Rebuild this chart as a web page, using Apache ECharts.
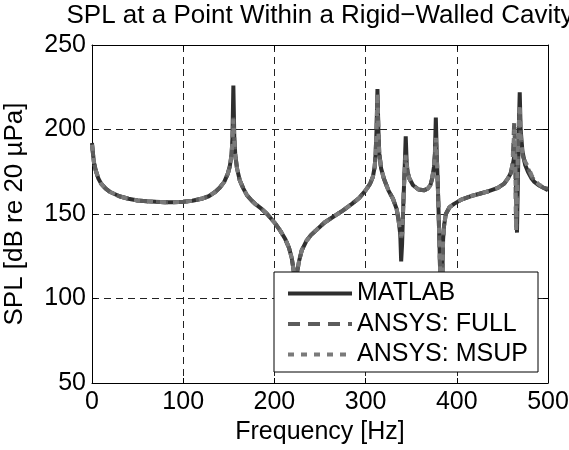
<!DOCTYPE html>
<html>
<head>
<meta charset="utf-8">
<script src="https://cdn.jsdelivr.net/npm/echarts@6/dist/echarts.min.js"></script>
<style>
html,body{margin:0;padding:0;background:#fff;}
#chart{width:569px;height:450px;}
</style>
</head>
<body>
<div id="chart"></div>
<script>
// Frequency points (Hz)
const frequencies = [
  0,1,2,4,7,10,15,20,30,40,
  50,60,70,80,90,100,110,120,128,135,
  140,145,149,151,153,154,155,156,157,159,
  162,166,170,175,180,186,192,200,206,212,
  216,219,221,222,223,224,225,227,230,235,
  240,247,255,265,275,285,293,300,305,308,
  310,311,312,313,314,315,317,320,325,330,
  334,336,338,339,340,341,342,343,344,345,
  346,348,352,358,364,368,371,373,375,376,
  377,378,379,380,381,382,383,384,385,386,
  388,392,397,405,415,425,435,445,452,456,
  459,461,463,464,465,466,467,468,469,470,
  472,475,478,482,485,490,495,500
];
const splMatlab = [
  192,186,181,176,171,168,165,163,160.5,159,
  158,157.5,157.2,157,157,157.2,157.8,159,160.5,163,
  165.5,169,174,178,185,195,226,196,186,177,
  170,165,161,158,155.5,153,150,145,140.5,135,
  130,124,117,110,95,108,116,122,128.5,134,
  137.5,141,145,148.5,152,156,159.5,164,168,172,
  178,186,200,224,200,186,177,171,164,159,
  153,147,138,122,132,150,165,180,196,181,
  175,171,167,164.5,164,165,167,171,178,186,
  207,186,170,152,132,110,85,110,135,143,
  150,154,156,158.5,160.5,162,163.5,165.5,168,171,
  174,178,184,190,165,139,170,200,222,200,
  187,179,175,171,169,167,165.5,164
];
const splAnsysFull = [
  191,186,181,176,171,168,165,163,160.5,159,
  158,157.5,157.2,157,157,157.2,157.8,159,160.5,163,
  165.5,169,174,178,185,193,207,194,185,177,
  170,165,161,158,155.5,153,150,145,140.5,135,
  130,124,117,111,100,108,116,122,128.5,134,
  137.5,141,145,148.5,152,156,159.5,164,168,172,
  178,186,199,222,199,186,177,171,164,159,
  153,147,139,136,138,150,165,178,184,180,
  175,171,167,164.5,164,165,167,171,178,185,
  194,185,170,152,132,110,90,110,135,143,
  150,154,156,158.5,160.5,162,163.5,165.5,168,171,
  174,179,205,185,142,160,185,200,212,195,
  185,180,177,172,170,167,165.5,165
];
const splAnsysMsup = [
  191,186,181,176,171,168,165,163,160.5,159,
  158,157.5,157.2,157,157,157.2,157.8,159,160.5,163,
  165.5,169,174,178,185,193,206,194,185,177,
  170,165,161,158,155.5,153,150,145,140.5,135,
  130,124,117,111,100,108,116,122,128.5,134,
  137.5,141,145,148.5,152,156,159.5,164,168,172,
  178,186,199,222,199,186,177,171,164,159,
  153,147,139,137,139,150,165,178,185,180,
  175,171,167,164.5,164,165,167,171,178,185,
  195,185,170,152,132,110,90,110,135,143,
  150,154,156,158.5,160.5,162,163.5,165.5,168,171,
  174,179,200,188,140,162,188,203,215,196,
  186,181,178,173,170,167.5,166,165.5
];
const seriesNames = ['MATLAB', 'ANSYS: FULL', 'ANSYS: MSUP'];
const xTicks = [0, 100, 200, 300, 400, 500];
const yTicks = [50, 100, 150, 200, 250];

const pair = (ys) => frequencies.map((f, i) => [f, ys[i]]);
const FONT = 'Liberation Sans, Arial, Helvetica, sans-serif';
const FS = 25;

const chart = echarts.init(document.getElementById('chart'), null, {renderer: 'canvas'});

const gridDash = {show: true, lineStyle: {color: '#222', width: 1, type: [7, 5]}};
const axisLine = {show: true, onZero: false, lineStyle: {color: '#000', width: 1}};
const tick = {show: true, inside: true, length: 5, lineStyle: {color: '#000', width: 1}};

const option = {
  backgroundColor: '#fff',
  animation: false,
  title: {
    text: 'SPL at a Point Within a Rigid\u2212Walled Cavity',
    left: 320, top: 3, textAlign: 'center', padding: 0,
    textStyle: {fontFamily: FONT, fontSize: 26, fontWeight: 'normal', color: '#000'}
  },
  grid: {left: 92, right: 21, top: 45, bottom: 67, containLabel: false, outerBoundsMode: 'none'},
  xAxis: [{
    type: 'value', min: xTicks[0], max: xTicks[xTicks.length - 1], interval: 100,
    position: 'bottom',
    name: 'Frequency [Hz]', nameLocation: 'middle', nameGap: 36,
    nameTextStyle: {fontFamily: FONT, fontSize: FS, color: '#000'},
    axisLine: axisLine, axisTick: tick,
    axisLabel: {fontFamily: FONT, fontSize: FS, color: '#000', margin: 7},
    splitLine: gridDash
  }, {
    type: 'value', min: xTicks[0], max: xTicks[xTicks.length - 1], interval: 100,
    position: 'top', axisLine: axisLine, axisTick: tick,
    axisLabel: {show: false}, splitLine: {show: false}
  }],
  yAxis: [{
    type: 'value', min: yTicks[0], max: yTicks[yTicks.length - 1], interval: 50,
    position: 'left',
    name: 'SPL [dB re 20 \u00b5Pa]', nameLocation: 'middle', nameGap: 64,
    nameTextStyle: {fontFamily: FONT, fontSize: 26, color: '#000'},
    axisLine: axisLine, axisTick: tick,
    axisLabel: {fontFamily: FONT, fontSize: FS, color: '#000', margin: 6},
    splitLine: gridDash
  }, {
    type: 'value', min: yTicks[0], max: yTicks[yTicks.length - 1], interval: 50,
    position: 'right', axisLine: axisLine, axisTick: tick,
    axisLabel: {show: false}, splitLine: {show: false}
  }],
  legend: {
    data: seriesNames,
    orient: 'vertical', left: 274, top: 272,
    padding: [9, 8, 8, 12],
    itemWidth: 64, itemHeight: 14, itemGap: 5.5,
    itemStyle: {opacity: 0},
    lineStyle: {width: 4},
    textStyle: {fontFamily: FONT, fontSize: FS, color: '#000'},
    z: 20
  },
  graphic: [{
    type: 'rect', z: 10,
    shape: {x: 274, y: 272, width: 264, height: 100},
    style: {fill: '#fff', stroke: '#000', lineWidth: 1}
  }],
  series: [{
    name: seriesNames[0], type: 'line', data: pair(splMatlab),
    showSymbol: false, symbol: 'none', smooth: false,
    lineStyle: {color: '#2e2e2e', width: 4},
    itemStyle: {color: '#2e2e2e'}, z: 2
  }, {
    name: seriesNames[1], type: 'line', data: pair(splAnsysFull),
    showSymbol: false, symbol: 'none', smooth: false,
    lineStyle: {color: '#5c5c5c', width: 4, type: [12, 8]},
    itemStyle: {color: '#5c5c5c'}, z: 3
  }, {
    name: seriesNames[2], type: 'line', data: pair(splAnsysMsup),
    showSymbol: false, symbol: 'none', smooth: false,
    lineStyle: {color: '#7a7a7a', width: 4, type: [6, 7]},
    itemStyle: {color: '#7a7a7a'}, z: 4
  }]
};
chart.setOption(option);
</script>
</body>
</html>
